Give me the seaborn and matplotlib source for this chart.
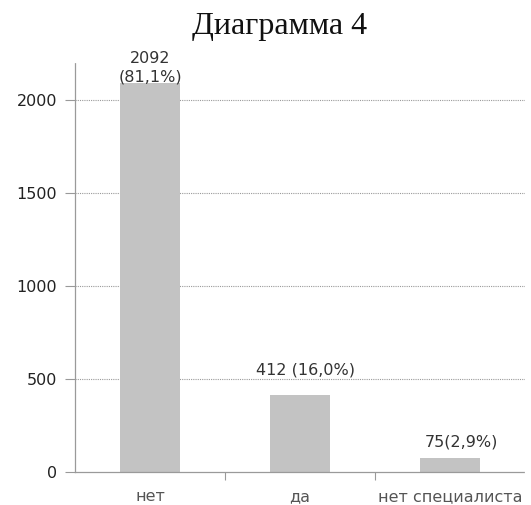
import matplotlib
matplotlib.use("Agg")
import matplotlib.pyplot as plt
import seaborn as sns
import pandas as pd

categories = ["нет", "да", "нет специалиста"]
values = [2092, 412, 75]
label_texts = ["2092\n(81,1%)", "412 (16,0%)", "75(2,9%)"]
y_ticks = [0, 500, 1000, 1500, 2000]

sns.set_theme(style="white")
plt.rcParams["font.family"] = ["DejaVu Sans"]

df = pd.DataFrame({"cat": categories, "val": values})

fig = plt.figure(figsize=(5.31, 5.05), dpi=100)
ax = fig.add_axes([75 / 531, 33 / 505, 450 / 531, 409 / 505])

sns.barplot(data=df, x="cat", y="val", order=categories, color="#c3c3c3",
            width=0.4, saturation=1, ax=ax, edgecolor="none")

ax.set_xlim(-0.5, 2.5)
ax.set_ylim(0, 2200)
ax.set_yticks(y_ticks)
ax.set_yticklabels([str(t) for t in y_ticks], fontsize=11.5, color="#222222")
ax.set_xlabel("")
ax.set_ylabel("")
ax.set_xticks(range(len(categories)))
ax.set_xticklabels(categories, fontsize=11.5, color="#555555")
ax.tick_params(axis="x", length=0, pad=12.5)
ax.tick_params(axis="y", length=7, width=0.8, color="#999999", pad=6, left=True)

# category boundary ticks on the x-axis
ax.set_xticks([0.5, 1.5], minor=True)
ax.tick_params(axis="x", which="minor", length=6, width=0.8, color="#999999", bottom=True)

for y in y_ticks[1:]:
    ax.axhline(y, color="#9a9a9a", linestyle=(0, (1, 1)), linewidth=0.8, zorder=0)

for s in ["top", "right"]:
    ax.spines[s].set_visible(False)
for s in ["left", "bottom"]:
    ax.spines[s].set_color("#9a9a9a")
    ax.spines[s].set_linestyle((0, (1, 1)))
    ax.spines[s].set_linewidth(0.9)

x_off = [0, 4, 8]
y_off = [11, 18, 11.5]
for i, (v, t) in enumerate(zip(values, label_texts)):
    ax.annotate(t, xy=(i, v), xytext=(x_off[i], y_off[i]), textcoords="offset points",
                ha="center", va="center", fontsize=11.5, color="#333333",
                linespacing=1.25, annotation_clip=False)

fig.text(0.527, 0.948, "Диаграмма 4", ha="center", va="center",
         fontsize=23, family="Liberation Serif", color="#111111")

fig.savefig("out.png", dpi=100)
